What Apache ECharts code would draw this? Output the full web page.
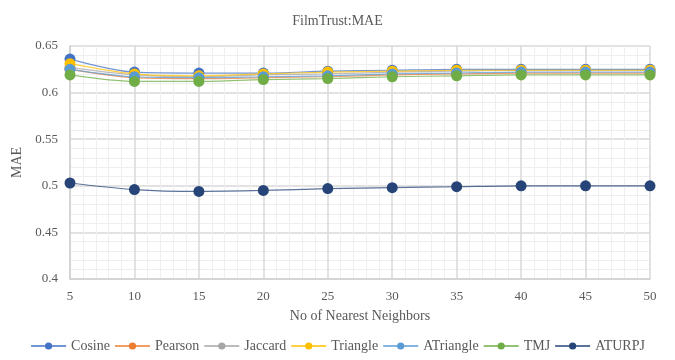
<!DOCTYPE html>
<html>
<head>
<meta charset="utf-8">
<script src="https://cdn.jsdelivr.net/npm/echarts@6/dist/echarts.min.js"></script>
<style>
  html, body { margin: 0; padding: 0; background: #fff; }
  #chart { width: 675px; height: 360px; }
</style>
</head>
<body>
<div id="chart"></div>
<script>
// Neighbourhood sizes (x axis)
const neighbors = [5, 10, 15, 20, 25, 30, 35, 40, 45, 50];

// MAE per similarity measure
const cosine    = [0.636, 0.622, 0.621, 0.621, 0.623, 0.624, 0.625, 0.625, 0.625, 0.625];
const pearson   = [0.625, 0.616, 0.615, 0.616, 0.617, 0.619, 0.620, 0.621, 0.621, 0.621];
const jaccard   = [0.627, 0.619, 0.617, 0.619, 0.620, 0.622, 0.623, 0.624, 0.624, 0.624];
const triangle  = [0.631, 0.620, 0.618, 0.620, 0.622, 0.623, 0.624, 0.624, 0.624, 0.624];
const atriangle = [0.625, 0.617, 0.616, 0.617, 0.618, 0.620, 0.621, 0.622, 0.622, 0.622];
const tmj       = [0.619, 0.612, 0.612, 0.614, 0.615, 0.617, 0.618, 0.619, 0.619, 0.619];
const aturpj    = [0.503, 0.496, 0.494, 0.495, 0.497, 0.498, 0.499, 0.500, 0.500, 0.500];

const seriesNames  = ['Cosine', 'Pearson', 'Jaccard', 'Triangle', 'ATriangle', 'TMJ', 'ATURPJ'];
const seriesValues = [cosine, pearson, jaccard, triangle, atriangle, tmj, aturpj];
const seriesColors = ['#4472C4', '#ED7D31', '#A5A5A5', '#FFC000', '#5B9BD5', '#70AD47', '#264478'];

const FONT = '"Liberation Serif", "Times New Roman", serif';
const TEXT = '#595959';

const chart = echarts.init(document.getElementById('chart'), null, { renderer: 'canvas' });

chart.setOption({
  animation: false,
  backgroundColor: '#ffffff',
  title: {
    text: 'FilmTrust:MAE',
    left: 'center',
    top: 9,
    textStyle: { fontFamily: FONT, fontSize: 14, fontWeight: 'normal', color: TEXT }
  },
  legend: {
    bottom: 2,
    left: 'center',
    itemWidth: 35,
    itemHeight: 9,
    itemGap: 4,
    data: seriesNames,
    textStyle: { fontFamily: FONT, fontSize: 14, color: TEXT }
  },
  grid: { left: 70, right: 25, top: 46, bottom: 81 },
  xAxis: {
    type: 'value',
    min: 5,
    max: 50,
    interval: 5,
    name: 'No of Nearest Neighbors',
    nameLocation: 'middle',
    nameGap: 30,
    nameTextStyle: { fontFamily: FONT, fontSize: 14, color: TEXT },
    axisLine: { show: true, lineStyle: { color: '#d0d0d0', width: 1.5 } },
    axisTick: { show: false },
    axisLabel: { fontFamily: FONT, fontSize: 13, color: TEXT, margin: 11 },
    splitLine: { show: true, lineStyle: { color: '#d9d9d9', width: 1.5 } },
    minorTick: { show: false, splitNumber: 5 },
    minorSplitLine: { show: true, lineStyle: { color: '#efefef', width: 1 } }
  },
  yAxis: {
    type: 'value',
    min: 0.4,
    max: 0.65,
    interval: 0.05,
    name: 'MAE',
    nameLocation: 'middle',
    nameGap: 45,
    nameRotate: 90,
    nameTextStyle: { fontFamily: FONT, fontSize: 14, color: TEXT },
    axisLine: { show: true, lineStyle: { color: '#d0d0d0', width: 1.5 } },
    axisTick: { show: false },
    axisLabel: { fontFamily: FONT, fontSize: 13, color: TEXT, margin: 12 },
    splitLine: { show: true, lineStyle: { color: '#d9d9d9', width: 1.5 } },
    minorTick: { show: false, splitNumber: 5 },
    minorSplitLine: { show: true, lineStyle: { color: '#efefef', width: 1 } }
  },
  series: seriesNames.map((name, i) => ({
    name: name,
    type: 'line',
    smooth: 0.3,
    data: neighbors.map((n, j) => [n, seriesValues[i][j]]),
    symbol: 'circle',
    symbolSize: 11,
    color: seriesColors[i],
    itemStyle: { color: seriesColors[i] },
    lineStyle: { color: seriesColors[i], width: 1.2, opacity: 0.75 }
  }))
});
</script>
</body>
</html>
